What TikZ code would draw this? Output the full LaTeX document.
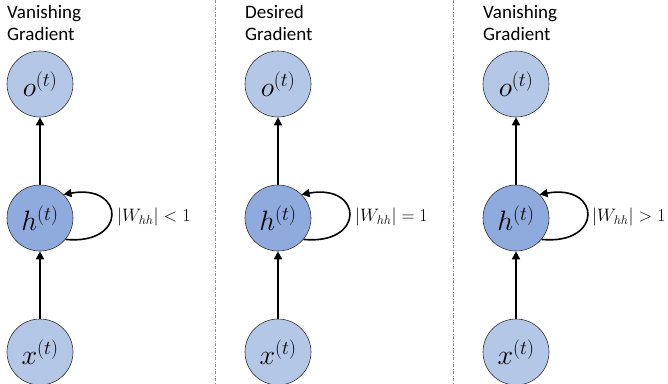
\RequirePackage{fix-cm}
\documentclass[tikz,border=0pt]{standalone}
\usepackage{fontspec}
\setmainfont{Carlito}
\usepackage{amsmath}
\usetikzlibrary{arrows.meta, positioning}
\definecolor{lightblue}{HTML}{B4C7E7}
\definecolor{midblue}{HTML}{8FAADC}
\begin{document}
\begin{tikzpicture}[
			x=1pt, y=-1pt,
			unit/.style={circle, draw=black!80, line width=0.6pt, fill=lightblue, minimum size=66pt, inner sep=0pt, font=\fontsize{28}{30}\selectfont},
			hidden/.style={unit, fill=midblue},
			title/.style={anchor=north west, align=left, inner sep=0pt, font=\fontsize{19}{22}\selectfont},
			wlabel/.style={anchor=west, inner sep=0pt, font=\fontsize{18}{20}\selectfont},
			arr/.style={-{Triangle[length=8pt, width=8pt]}, line width=1.6pt},
			divider/.style={gray!85, line width=0.8pt, dash pattern=on 3pt off 1.5pt on 1pt off 1.5pt}
			]
			
			\useasboundingbox (0,0) rectangle (668,383);
			
			\coordinate (d1top) at (215,0);
			\coordinate (d1bot) at (215,383);
			\coordinate (d2top) at (453,0);
			\coordinate (d2bot) at (453,383);
			\draw[divider] (d1top) -- (d1bot);
			\draw[divider] (d2top) -- (d2bot);
			
			\node[title] (title1) at (7,5) {Vanishing\\Gradient};
			\node[unit] (o1) at (40,84) {$o^{(t)}$};
			\node[hidden] (h1) at (40,218) {$h^{(t)}$};
			\node[unit] (x1) at (40,352) {$x^{(t)}$};
			\node[wlabel] (w1) at (117,217) {$|W_{hh}| < 1$};
			
			\node[title] (title2) at (245,5) {Desired\\Gradient};
			\node[unit] (o2) at (278,84) {$o^{(t)}$};
			\node[hidden] (h2) at (278,218) {$h^{(t)}$};
			\node[unit] (x2) at (278,352) {$x^{(t)}$};
			\node[wlabel] (w2) at (355,217) {$|W_{hh}| = 1$};
			
			\node[title] (title3) at (483,5) {Vanishing\\Gradient};
			\node[unit] (o3) at (516,84) {$o^{(t)}$};
			\node[hidden] (h3) at (516,218) {$h^{(t)}$};
			\node[unit] (x3) at (516,352) {$x^{(t)}$};
			\node[wlabel] (w3) at (592,217) {$|W_{hh}| > 1$};
			
			\draw[arr] (x1) -- (h1);
			\draw[arr] (h1) -- (o1);
			\draw[arr] (h1.-40) .. controls +(62,6) and +(62,-11) .. (h1.45);
			
			\draw[arr] (x2) -- (h2);
			\draw[arr] (h2) -- (o2);
			\draw[arr] (h2.-40) .. controls +(62,6) and +(62,-11) .. (h2.45);
			
			\draw[arr] (x3) -- (h3);
			\draw[arr] (h3) -- (o3);
			\draw[arr] (h3.-40) .. controls +(62,6) and +(62,-11) .. (h3.45);
			
		\end{tikzpicture}
\end{document}
